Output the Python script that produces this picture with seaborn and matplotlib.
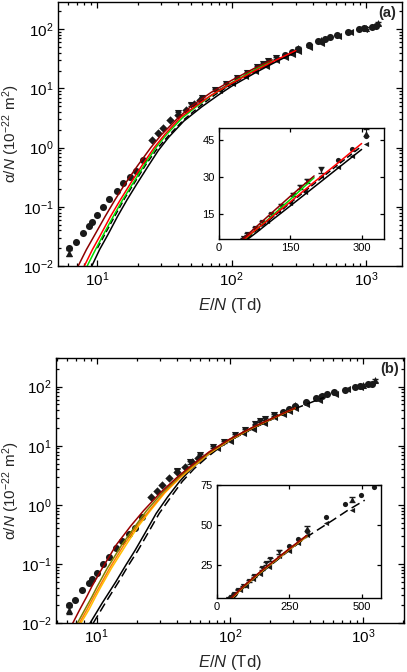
import matplotlib
matplotlib.use("Agg")
import matplotlib.pyplot as plt
import seaborn as sns

# ---- experimental points (same in both panels) ----
circ_en = [6.2, 6.9, 7.8, 8.7, 9.2, 10.0, 11.1, 12.3, 13.9, 15.6, 17.5, 19.3, 22.0,
           250, 280, 310, 377, 443, 497, 542, 610, 739, 880, 960, 1100, 1180]
circ_a = [0.020, 0.025, 0.036, 0.048, 0.055, 0.072, 0.10, 0.134, 0.186, 0.25, 0.32, 0.41, 0.62,
          37, 41.5, 46.5, 55, 63, 69, 74, 81, 89, 99, 103, 110, 112]

tup_en = [6.2, 310, 465, 1000, 1235]
tup_a = [0.0165, 48, 66, 106, 127]
tup_err = [0.002, 1.5, 1.5, 4, 8]

tdn_en = [40, 50, 60, 75, 90, 110, 130, 155, 170, 185, 215]
tdn_a = [3.8, 5.3, 7.0, 9.5, 11.7, 15.0, 18.3, 23.0, 26.0, 28.5, 33.0]
tdn_err = [0.2, 0.3, 0.3, 0.4, 0.5, 0.6, 0.7, 0.8, 0.9, 0.9, 1.2]

dia_en = [25.4, 28.5, 31, 35, 40, 46, 52, 58]
dia_a = [1.35, 1.75, 2.15, 2.9, 3.6, 4.4, 5.4, 6.3]

tlf_en = [80, 100, 125, 150, 180, 215, 250, 280, 310, 375, 465, 620, 760, 960]
tlf_a = [9.3, 12.2, 16.5, 19.5, 24, 30.5, 34, 38.5, 43.5, 51, 59.5, 76, 90, 100]

# ---- model curves, panel (a) ----
a_dred_en = [7.2, 8.3, 9.6, 11.4, 13.5, 16, 20, 25, 30, 40, 50, 70, 100, 150, 200]
a_dred_a = [0.01, 0.019, 0.034, 0.068, 0.13, 0.24, 0.5, 1.0, 1.65, 3.2, 5.0, 8.5, 13.7, 22.3, 30.5]

a_red_en = [8.0, 9.2, 10.6, 12.5, 14.8, 17.5, 21.5, 26.5, 32, 42, 55, 70, 100, 150, 200, 250, 300]
a_red_a = [0.01, 0.019, 0.034, 0.068, 0.13, 0.24, 0.5, 1.0, 1.7, 3.3, 5.2, 7.6, 12.2, 20, 28, 35.7, 43.6]

a_green_en = [8.4, 9.7, 11.1, 13.1, 15.4, 18.2, 22.3, 27.3, 33, 43, 55, 70, 100, 150, 200]
a_green_a = [0.01, 0.019, 0.034, 0.068, 0.13, 0.24, 0.5, 1.0, 1.7, 3.2, 5.0, 7.5, 12.4, 21.0, 29.8]

a_black_en = [9.1, 10.4, 12, 14.1, 16.6, 19.6, 23.8, 28.5, 34, 44, 60, 80, 100, 150, 200, 250, 300]
a_black_a = [0.01, 0.019, 0.034, 0.068, 0.13, 0.24, 0.48, 0.9, 1.5, 2.8, 4.9, 7.8, 10.9, 18.4, 26, 33.6, 41.2]

a_dash_en = [10.0, 11.5, 13.5, 16, 19, 23, 28, 34, 44, 58, 75, 100, 150, 200, 250, 300]
a_dash_a = [0.02, 0.036, 0.07, 0.14, 0.26, 0.52, 0.97, 1.6, 2.95, 5.0, 7.8, 11.8, 19.6, 27.3, 35, 42.5]

# ---- model curves, panel (b) ----
b_dred_en = [6.6, 7.5, 8.4, 9.2, 11, 14, 18, 22.5, 30, 40, 50, 70, 100, 150, 200, 250, 310]
b_dred_a = [0.01, 0.0175, 0.028, 0.042, 0.085, 0.21, 0.44, 0.8, 1.6, 2.9, 4.4, 7.9, 13.0, 20.8, 28, 35.2, 43.5]

b_olive_en = [7.15, 8.2, 9.2, 10.1, 12, 15.4, 19.5, 23.7, 31, 41, 51, 70, 100, 150, 200, 250, 310]
b_olive_a = [0.01, 0.0175, 0.028, 0.042, 0.085, 0.21, 0.44, 0.8, 1.6, 2.9, 4.4, 7.7, 12.8, 20.6, 27.8, 35, 43.2]

b_orange_en = [7.4, 8.5, 9.5, 10.5, 12.5, 16, 20, 24.8, 32, 42, 52, 70, 100, 150, 200, 250, 310]
b_orange_a = [0.01, 0.0175, 0.028, 0.042, 0.085, 0.21, 0.44, 0.8, 1.6, 2.9, 4.4, 7.5, 12.6, 20.4, 27.6, 34.8, 43.0]

b_gold_en = [7.6, 8.8, 9.8, 10.8, 12.9, 16.6, 20.6, 25.3, 32.5, 42.5, 53, 70, 100, 150, 200, 250, 310]
b_gold_a = [0.01, 0.0175, 0.028, 0.042, 0.085, 0.21, 0.44, 0.8, 1.6, 2.9, 4.4, 7.4, 12.5, 20.3, 27.5, 34.7, 42.9]

b_black_en = [8.9, 11, 13.9, 16.5, 19.4, 23, 28, 34, 42, 52, 65, 80, 100, 150, 200, 250, 310]
b_black_a = [0.01, 0.022, 0.05, 0.095, 0.17, 0.33, 0.72, 1.35, 2.5, 4.2, 6.4, 9.2, 12.6, 20.0, 27.2, 34.5, 42.8]

b_dash_en = [9.4, 11.6, 14.6, 17.3, 20.4, 24.2, 29.5, 36, 44, 54, 67, 82, 100, 150, 200, 250,
             310, 350, 400, 450, 510]
b_dash_a = [0.01, 0.022, 0.05, 0.095, 0.17, 0.33, 0.72, 1.35, 2.5, 4.1, 6.3, 9.0, 12.3, 19.7, 26.9, 34.2,
            42.5, 47.2, 53, 59, 65.5]

sns.set_theme(style="ticks")
plt.rcParams['font.family'] = ['Liberation Sans', 'DejaVu Sans']
plt.rcParams['mathtext.fontset'] = 'custom'
plt.rcParams['mathtext.rm'] = 'Liberation Sans'
plt.rcParams['mathtext.it'] = 'Liberation Sans:italic'
plt.rcParams['mathtext.bf'] = 'Liberation Sans:bold'
plt.rcParams['axes.linewidth'] = 1.0
plt.rcParams['axes.edgecolor'] = 'black'


def style_ticks(ax, size, major=4, minor=2):
    ax.tick_params(which='both', direction='in', top=True, right=True,
                   width=0.9, colors='black', labelsize=size, pad=3)
    ax.tick_params(which='major', length=major)
    ax.tick_params(which='minor', length=minor)


def draw_points(ax, s):
    sns.scatterplot(x=circ_en, y=circ_a, marker='o', s=s, color='k', linewidth=0, ax=ax)
    sns.scatterplot(x=tup_en, y=tup_a, marker='^', s=s, color='k', linewidth=0, ax=ax)
    sns.scatterplot(x=tdn_en, y=tdn_a, marker='v', s=s, color='k', linewidth=0, ax=ax)
    sns.scatterplot(x=dia_en, y=dia_a, marker='D', s=s * 0.7, color='k', linewidth=0, ax=ax)
    sns.scatterplot(x=tlf_en, y=tlf_a, marker='<', s=s, color='k', linewidth=0, ax=ax)
    ax.errorbar(tup_en, tup_a, yerr=tup_err, fmt='none', ecolor='k', elinewidth=0.8, capsize=2)
    ax.errorbar(tdn_en, tdn_a, yerr=tdn_err, fmt='none', ecolor='k', elinewidth=0.8, capsize=2)


def draw_curves(ax, curves):
    for xs, ys, col, ls in curves:
        sns.lineplot(x=xs, y=ys, color=col, lw=1.1, linestyle=ls, sort=False,
                     errorbar=None, ax=ax)


curves_a = [
    (a_dash_en, a_dash_a, 'black', (0, (4, 2))),
    (a_black_en, a_black_a, 'black', '-'),
    (a_green_en, a_green_a, '#00dd00', '-'),
    (a_red_en, a_red_a, '#ff0000', '-'),
    (a_dred_en, a_dred_a, '#8b0000', '-'),
]
curves_b = [
    (b_dash_en, b_dash_a, 'black', (0, (6, 3))),
    (b_black_en, b_black_a, 'black', '-'),
    (b_gold_en, b_gold_a, '#ffc000', '-'),
    (b_orange_en, b_orange_a, '#ff7f00', '-'),
    (b_olive_en, b_olive_a, '#808000', '-'),
    (b_dred_en, b_dred_a, '#990000', '-'),
]

fig = plt.figure(figsize=(4.07, 6.72), dpi=100)

panels = [
    ([0.1418, 0.6042, 0.8452, 0.3933], (5.07, 1845), (0.01, 292), curves_a, '(a)', -0.103,
     [0.538, 0.6439, 0.4054, 0.1661], (0, 347), (4.9, 50), [0, 150, 300], [15, 30, 45]),
    ([0.1369, 0.0725, 0.8557, 0.3948], (4.92, 2040), (0.01, 305), curves_b, '(b)', -0.097,
     [0.5324, 0.1106, 0.4037, 0.1677], (0, 566), (4.6, 75), [0, 250, 500], [25, 50, 75]),
]

for rect, xl, yl, curves, tag, ylx, irect, ixl, iyl, ixt, iyt in panels:
    ax = fig.add_axes(rect)
    ax.set_xscale('log')
    ax.set_yscale('log')
    draw_points(ax, 26)
    draw_curves(ax, curves)
    ax.set_xlim(*xl)
    ax.set_ylim(*yl)
    style_ticks(ax, 11)
    ax.set_xlabel('$E$/$N$ (Td)', fontsize=12, labelpad=5)
    ax.set_ylabel('α/$N$ (10$^{-22}$ m$^{2}$)', fontsize=11)
    ax.yaxis.set_label_coords(ylx, 0.5)
    ax.text(0.985, 0.985, tag, transform=ax.transAxes, ha='right', va='top',
            fontsize=10.5, fontweight='bold')

    ins = fig.add_axes(irect)
    draw_points(ins, 14)
    draw_curves(ins, curves)
    ins.set_xlim(*ixl)
    ins.set_ylim(*iyl)
    ins.set_xticks(ixt)
    ins.set_yticks(iyt)
    ins.set_xlabel('')
    ins.set_ylabel('')
    style_ticks(ins, 8, major=3)
    ins.minorticks_off()

fig.savefig('out.png', dpi=100)
